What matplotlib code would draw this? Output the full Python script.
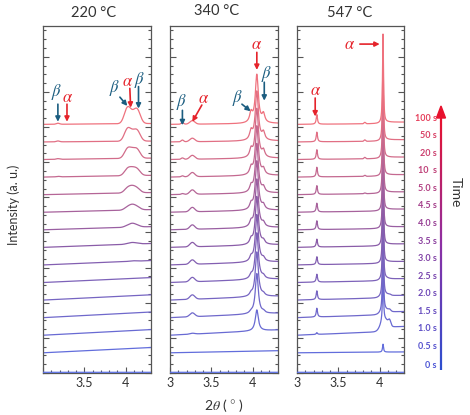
import numpy as np
import matplotlib
matplotlib.use('Agg')
import matplotlib.pyplot as plt
from matplotlib.colors import LinearSegmentedColormap
from matplotlib.collections import LineCollection
from matplotlib.patches import Polygon
from matplotlib.ticker import MultipleLocator, FixedLocator

plt.rcParams['font.family'] = ['Lato', 'DejaVu Sans']
plt.rcParams['mathtext.fontset'] = 'stix'

# ---------------- data ----------------
time_labels = ['0 s', '0.5 s', '1.0 s', '1.5 s', '2.0 s', '2.5 s', '3.0 s', '3.5 s',
               '4.0 s', '4.5 s', '5.0 s', '10  s', '20 s', '50 s', '100 s']
panel_titles = ['220 \u00b0C', '340 \u00b0C', '547 \u00b0C']
x_ticks = [3.0, 3.5, 4.0]
x_tick_labels = ['3', '3.5', '4']

# 220 C : baseline tilt and broad beta/alpha/beta hump heights
tilt_220 = [0.0, 0.30, 0.32, 0.32, 0.30, 0.28, 0.25, 0.22, 0.18, 0.15, 0.12, 0.10, 0.08, 0.05, 0.05]
beta_a_220 = [0, 0, 0, 0, 0, 0, 0, 0.03, 0.08, 0.15, 0.25, 0.35, 0.50, 0.65, 0.85]
alpha_220 = [0, 0, 0, 0, 0, 0, 0.03, 0.08, 0.18, 0.25, 0.30, 0.32, 0.35, 0.35, 0.35]
beta_b_220 = [0, 0, 0, 0, 0, 0, 0, 0.03, 0.08, 0.15, 0.22, 0.32, 0.45, 0.55, 0.75]
beta_small_220 = [0, 0, 0, 0, 0, 0, 0, 0, 0, 0, 0, 0.03, 0.04, 0.05, 0.06]

# 340 C
tilt_340 = [0.0, 0.12, 0.30, 0.25, 0.22, 0.20, 0.18, 0.15, 0.14, 0.12, 0.10, 0.10, 0.08, 0.06, 0.05]
alpha_big_340 = [0, 0, 1.20, 2.30, 2.55, 2.65, 2.70, 2.75, 2.75, 2.80, 2.80, 2.80, 2.80, 2.80, 2.75]
beta_a_340 = [0, 0, 0, 0.10, 0.15, 0.20, 0.25, 0.28, 0.30, 0.32, 0.35, 0.40, 0.45, 0.50, 0.55]
beta_b_340 = [0, 0, 0, 0.10, 0.12, 0.15, 0.18, 0.20, 0.22, 0.25, 0.28, 0.32, 0.38, 0.42, 0.48]
alpha_small_340 = [0, 0, 0.05, 0.22, 0.25, 0.25, 0.25, 0.25, 0.25, 0.25, 0.25, 0.24, 0.22, 0.20, 0.20]
beta_small_340 = [0, 0, 0, 0, 0, 0, 0, 0, 0, 0, 0.05, 0.06, 0.08, 0.10, 0.10]

# 547 C
tilt_547 = [0.0, 0.05, 0.25, 0.20, 0.15, 0.12, 0.10, 0.10, 0.08, 0.08, 0.08, 0.06, 0.06, 0.05, 0.05]
alpha_big_547 = [0, 0.45, 2.80, 4.50, 4.80, 4.90, 5.00, 5.00, 5.00, 5.00, 5.00, 5.00, 5.00, 5.00, 5.10]
broad_547 = [0, 0, 0.60, 0.20, 0.10, 0.05, 0, 0, 0, 0, 0, 0, 0, 0, 0]
shoulder_547 = [0, 0, 0.30, 0.10, 0.05, 0, 0, 0, 0, 0, 0, 0, 0, 0, 0]
step_547 = [0, 0, 0.25, 0.15, 0.12, 0.10, 0.10, 0.10, 0.10, 0.10, 0.08, 0.08, 0.08, 0.08, 0.08]
alpha_small_547 = [0, 0, 0.10, 0.50, 0.50, 0.45, 0.45, 0.45, 0.50, 0.50, 0.50, 0.55, 0.55, 0.55, 0.55]
bump_547 = [0, 0, 0, 0, 0, 0, 0, 0, 0, 0, 0.04, 0.06, 0.08, 0.08, 0.08]


# ---------------- helpers ----------------
def gauss(x, c, s):
    return np.exp(-((x - c) ** 2) / (2 * s * s))


def lor(x, c, g):
    return 1.0 / (1.0 + ((x - c) / g) ** 2)


x = np.linspace(3.0, 4.3, 2600)
xn = (x - 3.0) / 1.3


def curve_220(i):
    return (tilt_220[i] * xn + beta_a_220[i] * gauss(x, 4.02, 0.038)
            + alpha_220[i] * gauss(x, 4.08, 0.038) + beta_b_220[i] * gauss(x, 4.14, 0.038)
            + beta_small_220[i] * gauss(x, 3.18, 0.02))


def curve_340(i):
    return (tilt_340[i] * xn + alpha_big_340[i] * lor(x, 4.05, 0.022)
            + beta_a_340[i] * lor(x, 3.98, 0.02) + beta_b_340[i] * lor(x, 4.13, 0.02)
            + alpha_small_340[i] * gauss(x, 3.27, 0.03) + beta_small_340[i] * gauss(x, 3.15, 0.015))


def curve_547(i):
    step = step_547[i] / (1 + np.exp(-(x - 4.07) / 0.01))
    return (tilt_547[i] * xn + alpha_big_547[i] * lor(x, 4.04, 0.007)
            + broad_547[i] * gauss(x, 4.05, 0.04) + shoulder_547[i] * gauss(x, 4.12, 0.015)
            + step + alpha_small_547[i] * lor(x, 3.24, 0.009) + bump_547[i] * gauss(x, 3.82, 0.01))


curve_funcs = [curve_220, curve_340, curve_547]

line_cmap = LinearSegmentedColormap.from_list('lines', ['#5b70e4', '#8a5ca8', '#ef727e'])
label_cmap = LinearSegmentedColormap.from_list('labels', ['#4c55d6', '#8a3f9e', '#e6405c'])

W, H = 470, 415
fig = plt.figure(figsize=(4.7, 4.15), dpi=100)

panel_left_px = [43, 170, 297]
panel_w_px = 107.5
top_px, bot_px = 26, 373
unit_px = 17.57
ylim_top = (bot_px - top_px) / unit_px

n = len(time_labels)


def offset(i):
    return 0.04 if i == 0 else i + 0.15


axes = []
for p in range(3):
    ax = fig.add_axes([panel_left_px[p] / W, (H - bot_px) / H, panel_w_px / W, (bot_px - top_px) / H])
    axes.append(ax)
    for i in range(n):
        y = curve_funcs[p](i) + offset(i)
        ax.plot(x, y, color=line_cmap(i / (n - 1)), lw=0.9,
                zorder=(3 if i == 0 else 2 + i * 0.01))
    ax.set_xlim(3.0, 4.3)
    ax.set_ylim(0, ylim_top)
    ax.xaxis.set_major_locator(FixedLocator(x_ticks))
    if p == 0:
        ax.set_xticklabels(['', '3.5', '4'])
    else:
        ax.set_xticklabels(x_tick_labels)
    ax.xaxis.set_minor_locator(MultipleLocator(0.1))
    ax.yaxis.set_major_locator(MultipleLocator(2))
    ax.yaxis.set_minor_locator(MultipleLocator(0.5))
    ax.set_yticklabels([])
    ax.tick_params(axis='both', which='both', direction='in', color='#555555', width=0.8)
    ax.tick_params(axis='y', which='both', left=True, right=True)
    ax.tick_params(axis='x', which='both', top=False, bottom=True)
    ax.tick_params(which='major', length=4)
    ax.tick_params(which='minor', length=2.5)
    ax.tick_params(axis='x', labelsize=9, labelcolor='#333333', pad=3)
    for s in ax.spines.values():
        s.set_color('#555555')
        s.set_linewidth(0.9)

# titles
title_pos = [(94, 13), (217, 11), (350, 13)]
for t, (px, py) in zip(panel_titles, title_pos):
    fig.text(px / W, 1 - py / H, t, ha='center', va='center', fontsize=10.5, color='#333333')

fig.text(14 / W, 1 - 205 / H, 'Intensity (a. u.)', rotation=90, ha='center', va='center',
         fontsize=9, color='#333333')
fig.text(224 / W, 1 - 405 / H, r'2$\theta$ ( $\degree$ )', ha='center', va='center',
         fontsize=10, color='#333333')

# annotations
BETA_C = '#1b5d80'
ALPHA_C = '#e5232b'
GREEK_FS = 12


def mark(ax, sym, color, txy, tail, tip):
    ax.text(txy[0], txy[1], sym, color=color, fontsize=GREEK_FS, ha='center', va='center',
            zorder=10)
    ax.annotate('', xy=tip, xytext=tail,
                arrowprops=dict(arrowstyle='-|>', color=color, lw=1.2, mutation_scale=7,
                                shrinkA=0, shrinkB=0), zorder=10)


a0, a1, a2 = axes
mark(a0, r'$\beta$', BETA_C, (3.165, 16.0), (3.18, 15.3), (3.18, 14.3))
mark(a0, r'$\alpha$', ALPHA_C, (3.295, 15.7), (3.29, 15.3), (3.29, 14.3))
mark(a0, r'$\beta$', BETA_C, (3.87, 16.2), (3.93, 15.7), (4.02, 15.2))
mark(a0, r'$\alpha$', ALPHA_C, (4.02, 16.6), (4.05, 16.2), (4.06, 15.1))
mark(a0, r'$\beta$', BETA_C, (4.17, 16.7), (4.155, 16.3), (4.155, 15.05))

mark(a1, r'$\beta$', BETA_C, (3.14, 15.4), (3.15, 14.95), (3.15, 14.1))
mark(a1, r'$\alpha$', ALPHA_C, (3.41, 15.65), (3.385, 15.25), (3.27, 14.3))
mark(a1, r'$\beta$', BETA_C, (3.82, 15.65), (3.87, 15.3), (3.975, 14.9))
mark(a1, r'$\alpha$', ALPHA_C, (4.05, 18.7), (4.05, 18.25), (4.05, 17.25))
mark(a1, r'$\beta$', BETA_C, (4.17, 17.0), (4.14, 16.55), (4.14, 15.5))

mark(a2, r'$\alpha$', ALPHA_C, (3.22, 16.1), (3.22, 15.65), (3.22, 14.6))
a2.text(3.64, 18.72, r'$\alpha$', color=ALPHA_C, fontsize=GREEK_FS, ha='center', va='center')
a2.annotate('', xy=(4.0, 18.72), xytext=(3.76, 18.72),
            arrowprops=dict(arrowstyle='-|>', color=ALPHA_C, lw=1.2, mutation_scale=7,
                            shrinkA=0, shrinkB=0))

# time labels on the right
for i, lab in enumerate(time_labels):
    a2.text(1.30, offset(i) + 0.36, lab, transform=a2.get_yaxis_transform(), ha='right',
            va='center', fontsize=6.5, fontweight='bold', color=label_cmap(i / (n - 1)))

# time arrow with gradient
ax_x = 441 / W
y0, y1 = 1 - 370 / H, 1 - 116 / H
ys = np.linspace(y0, y1, 120)
segs = [[(ax_x, ys[k]), (ax_x, ys[k + 1])] for k in range(len(ys) - 1)]
arrow_cmap = LinearSegmentedColormap.from_list('arr', ['#2c4fcf', '#8e2fa3', '#e8112d'])
lc = LineCollection(segs, colors=[arrow_cmap(k / (len(segs) - 1)) for k in range(len(segs))],
                    linewidths=1.6, transform=fig.transFigure)
fig.add_artist(lc)
head = Polygon([(436.5 / W, 1 - 118 / H), (445.5 / W, 1 - 118 / H), (441 / W, 1 - 106 / H)],
               closed=True, color='#e8112d', transform=fig.transFigure)
fig.add_artist(head)
fig.text(456 / W, 1 - 192 / H, 'Time', rotation=-90, ha='center', va='center', fontsize=10,
         color='#333333')

fig.savefig('out.png', dpi=100)
